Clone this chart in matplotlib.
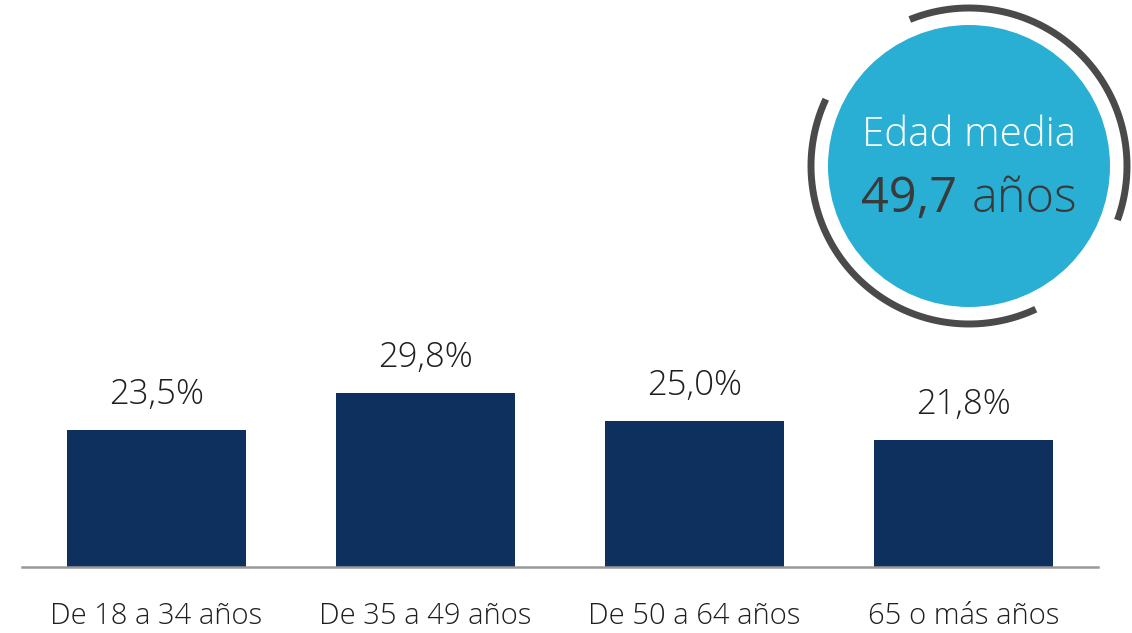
import numpy as np
import matplotlib.pyplot as plt
from matplotlib.patches import Circle
from matplotlib import font_manager

# Data
categories = ['De 18 a 34 años', 'De 35 a 49 años', 'De 50 a 64 años', '65 o más años']
values = [23.5, 29.8, 25.0, 21.8]
value_labels = ['23,5%', '29,8%', '25,0%', '21,8%']
mean_age_label = 'Edad media'
mean_age_value = '49,7'
mean_age_unit = 'años'

bar_color = '#0E305E'
circle_color = '#29AFD4'
arc_color = '#4A4A4A'
text_color = '#1F1F1F'

# pick a font that has a light weight if one is installed
fonts = font_manager.fontManager.ttflist
font, light = 'DejaVu Sans', 'normal'
for fam in ['Open Sans', 'Noto Sans', 'Lato', 'Roboto', 'Inter']:
    ws = [f.weight for f in fonts if f.name == fam]
    ws = [w if isinstance(w, int) else 400 for w in ws]
    if any(w <= 300 for w in ws):
        font, light = fam, 300
        break
else:
    if any(f.name == 'Open Sans' for f in fonts):
        font = 'Open Sans'
plt.rcParams['font.family'] = [font, 'DejaVu Sans']

W, H = 1132, 633
fig = plt.figure(figsize=(W / 100, H / 100), dpi=100)

# Bar axes: baseline at y=567 px, spans x 22..1098 px
ax = fig.add_axes([22 / W, (H - 567) / H, (1098 - 22) / W, 567 / H])
x = range(len(categories))
bars = ax.bar(x, values, width=0.665, color=bar_color)
ax.set_xlim(-0.5, 3.5)
ax.set_ylim(0, 97.2)

for bar, lab in zip(bars, value_labels):
    ax.annotate(lab, (bar.get_x() + bar.get_width() / 2, bar.get_height()),
                xytext=(0, 13), textcoords='offset points', ha='center', va='bottom',
                fontsize=25, fontweight=light, color=text_color)

ax.set_xticks(list(x))
ax.set_xticklabels(categories, fontsize=21, fontweight=light, color=text_color)
ax.tick_params(axis='x', length=0, pad=25)
ax.set_yticks([])
for s in ['top', 'right', 'left']:
    ax.spines[s].set_visible(False)
ax.spines['bottom'].set_color('#999999')
ax.spines['bottom'].set_linewidth(1.8)
ax.patch.set_alpha(0)

# Overlay axes in pixel coordinates (origin bottom-left) for the badge
ov = fig.add_axes([0, 0, 1, 1])
ov.set_xlim(0, W)
ov.set_ylim(0, H)
ov.axis('off')
ov.patch.set_alpha(0)

cx, cy, r, R = 969, H - 166, 141, 158
ov.add_patch(Circle((cx, cy), r, color=circle_color, lw=0))
for a0, a1 in [(-20, 112), (155, 295)]:
    t = np.radians(np.linspace(a0, a1, 200))
    ov.plot(cx + R * np.cos(t), cy + R * np.sin(t), color=arc_color, lw=5,
            solid_capstyle='butt')

ov.text(cx, H - 135, mean_age_label, ha='center', va='center', fontsize=29,
        fontweight=light, color='white')
ov.text(957, H - 212, mean_age_value, ha='right', va='baseline', fontsize=35,
        color='#3A3A3A')
ov.text(972, H - 212, mean_age_unit, ha='left', va='baseline', fontsize=35,
        fontweight=light, color='#3A3A3A')

plt.savefig('out.png', dpi=100)
